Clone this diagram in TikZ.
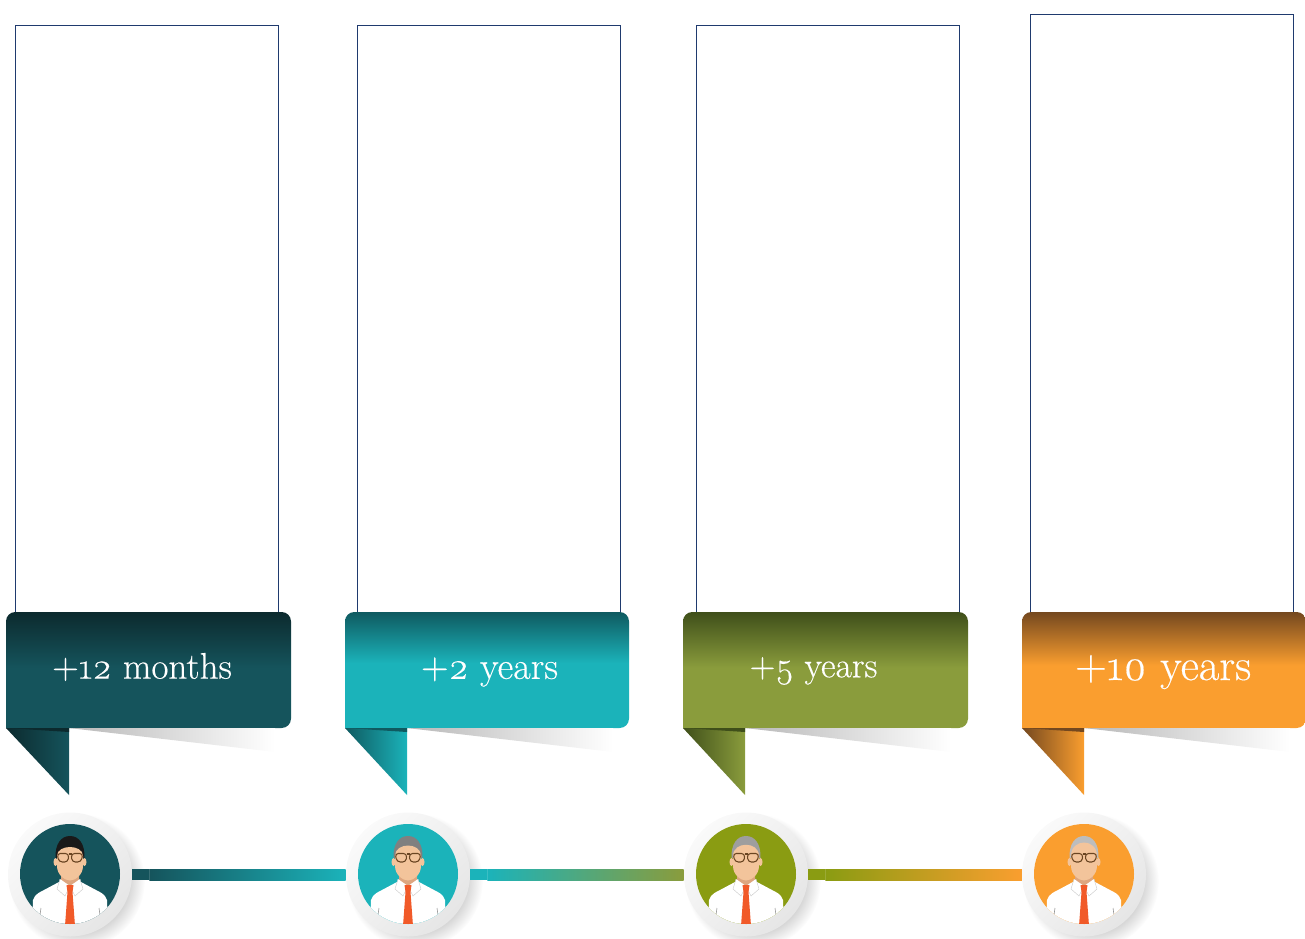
\documentclass[tikz,border=0pt]{standalone}
\usepackage{fontspec}
\setmainfont{Latin Modern Roman}[Numbers=OldStyle,FakeBold=0.35]
\usetikzlibrary{calc}
\definecolor{darkA}{HTML}{0C2A2E}\definecolor{baseA}{HTML}{15545C}
\definecolor{darkB}{HTML}{0F5A60}\definecolor{baseB}{HTML}{1BB3BA}
\definecolor{darkC}{HTML}{3F4F1A}\definecolor{baseC}{HTML}{8A9C3C}
\definecolor{darkD}{HTML}{74481F}\definecolor{baseD}{HTML}{FA9E2F}
\definecolor{discC}{HTML}{8A9C12}
\definecolor{boxline}{HTML}{1F3A6E}
\definecolor{skin}{HTML}{F3C49B}\definecolor{neckc}{HTML}{DDA680}
\definecolor{tiec}{HTML}{F15A29}\definecolor{frame}{HTML}{6A4522}
\pgfdeclareverticalshading{panelA}{100bp}{color(0bp)=(baseA);color(51bp)=(baseA);color(75bp)=(darkA);color(100bp)=(darkA)}
\pgfdeclareverticalshading{panelB}{100bp}{color(0bp)=(baseB);color(53bp)=(baseB);color(75bp)=(darkB);color(100bp)=(darkB)}
\pgfdeclareverticalshading{panelC}{100bp}{color(0bp)=(baseC);color(51bp)=(baseC);color(75bp)=(darkC);color(100bp)=(darkC)}
\pgfdeclareverticalshading{panelD}{100bp}{color(0bp)=(baseD);color(52bp)=(baseD);color(75bp)=(darkD);color(100bp)=(darkD)}
\pgfdeclareradialshading{ringshadow}{\pgfpoint{0bp}{0bp}}{color(0bp)=(black!22);color(17bp)=(black!22);color(25bp)=(white);color(50bp)=(white)}
\tikzset{
  emptybox/.style={draw=boxline,line width=0.7pt,fill=white},
  ringnode/.style={circle,minimum size=93pt,inner sep=0pt,left color=white!98!black,right color=black!10,shading angle=45},
  discnode/.style={circle,minimum size=75pt,inner sep=0pt},
  tagtext/.style={text=white,inner sep=0pt,anchor=center},
  shirtline/.style={draw=black!45,line width=0.4pt},
  barmark/.style={draw=white,opacity=0.15,line width=0.3pt}
}
\newcommand{\personfig}[3]{% centre x, hair colour, hairline
  \begin{scope}[shift={(#1,874)}]
    \clip (0,0) circle (50);
    \fill[white] (-38,52) -- (-37,26) .. controls (-35,20) and (-30,18) .. (-26,16) -- (-11,8) -- (11,8) -- (26,16) .. controls (30,18) and (35,20) .. (37,26) -- (38,52) -- cycle;
    \path[shirtline] (-29,34) -- (-31,48) (29,34) -- (31,48);
    \fill[neckc] (-9,-2) -- (9,-2) -- (9,9) -- (0,18) -- (-9,9) -- cycle;
    \fill[white] (-10,5) -- (-13,15) -- (-5,22) -- (0,12) -- (5,22) -- (13,15) -- (10,5) -- (0,12) -- cycle;
    \draw[black!22,line width=0.3pt] (-10,5) -- (-13,15) -- (-5,22) -- (0,12) -- (5,22) -- (13,15) -- (10,5);
    \fill[tiec] (-3.5,11) -- (3.5,11) -- (2.5,18) -- (5,52) -- (-5,52) -- (-2.5,18) -- cycle;
    \fill[skin] (-14.5,-12) circle[x radius=2,y radius=4] (14.5,-12) circle[x radius=2,y radius=4];
    \fill[#2] (-14.5,-16) .. controls (-15,-30) and (-9,-38) .. (0,-38) .. controls (9,-38) and (15,-30) .. (14.5,-16) -- cycle;
    \fill[skin] (-13,-18) .. controls (-13,#3) and (13,#3) .. (13,-18) -- (13,-8) .. controls (13,1) and (5,6.5) .. (0,6.5) .. controls (-5,6.5) and (-13,1) .. (-13,-8) -- cycle;
    \draw[frame,line width=0.8pt,rounded corners=2.5] (-13,-20.5) -- (-1.2,-20.5) -- (-2,-12) -- (-11,-12) -- cycle;
    \draw[frame,line width=0.8pt,rounded corners=2.5] (13,-20.5) -- (1.2,-20.5) -- (2,-12) -- (11,-12) -- cycle;
    \draw[frame,line width=0.8pt] (-1.5,-20) -- (1.5,-20);
  \end{scope}}
\newcommand{\ribbon}[4]{% panel left x, panel right x, letter, tail x
  \shade[shading=panel#3] (#1,728) [rounded corners=7] -- (#1,612) -- (#2,612) -- (#2,728) [sharp corners] -- cycle;
  \shade[left color=black!28,right color=white] (#4,728) -- (#4+206,728) -- (#4+206,752) -- cycle;
  \shade[left color=dark#3,right color=base#3] (#1,728) -- (#4,728) -- (#4,795) -- cycle;
  \fill[dark#3] (#1,728) -- (#4,728) -- (#4,732) -- cycle;}
\newcommand{\linkbar}[4]{% from node, to node, start colour, end colour
  \fill[#3] ($(#1.east)+(0,-5.5)$) rectangle ($(#1.east)+(17.3,5.5)$);
  \shade[left color=#3,right color=#4] ($(#1.east)+(17,-5.5)$) rectangle ($(#2.west)+(0,5.5)$);
  \draw[barmark] ($(#1.east)+(17,-5.5)$) -- ($(#1.east)+(17,5.5)$);}
\begin{document}
\begin{tikzpicture}[x=0.75pt,y=-0.75pt]
\useasboundingbox (0,0) rectangle (1305,938);
% empty frames
\draw[emptybox] (15.5,25.5) rectangle (278,620);
\draw[emptybox] (357.5,25.5) rectangle (620,620);
\draw[emptybox] (696.5,25.5) rectangle (959,620);
\draw[emptybox] (1030.5,14) rectangle (1293,620);
% ribbons
\ribbon{6}{291}{A}{69}
\ribbon{345}{629}{B}{407}
\ribbon{683}{968}{C}{745}
\ribbon{1022}{1306}{D}{1084}
\node[tagtext,font=\fontsize{27.8}{30}\selectfont] (t1) at (142,667) {+12 months};
\node[tagtext,font=\fontsize{28.7}{30}\selectfont] (t2) at (489.5,672) {+2 years};
\node[tagtext,font=\fontsize{26.8}{30}\selectfont] (t3) at (813.5,671) {+5 years};
\node[tagtext,font=\fontsize{33.5}{36}\selectfont] (t4) at (1163,672) {+10 years};
% ring shadows
\shade[shading=ringshadow] (77,881) circle (68);
\shade[shading=ringshadow] (415,881) circle (68);
\shade[shading=ringshadow] (753,881) circle (68);
\shade[shading=ringshadow] (1091,881) circle (68);
% rings and discs
\node[ringnode] (r1) at (70,874.5) {};
\node[ringnode] (r2) at (408,874.5) {};
\node[ringnode] (r3) at (746,874.5) {};
\node[ringnode] (r4) at (1084,874.5) {};
\node[discnode,fill=baseA] (d1) at (70,874) {};
\node[discnode,fill=baseB] (d2) at (408,874) {};
\node[discnode,fill=discC] (d3) at (746,874) {};
\node[discnode,fill=baseD] (d4) at (1084,874) {};
\personfig{70}{black!90}{-30}
\personfig{408}{black!50}{-32}
\personfig{746}{black!38}{-33}
\personfig{1084}{black!26}{-36}
% connecting bars
\linkbar{r1}{r2}{baseA}{baseB}
\linkbar{r2}{r3}{baseB}{baseC}
\linkbar{r3}{r4}{discC}{baseD}
\end{tikzpicture}
\end{document}
